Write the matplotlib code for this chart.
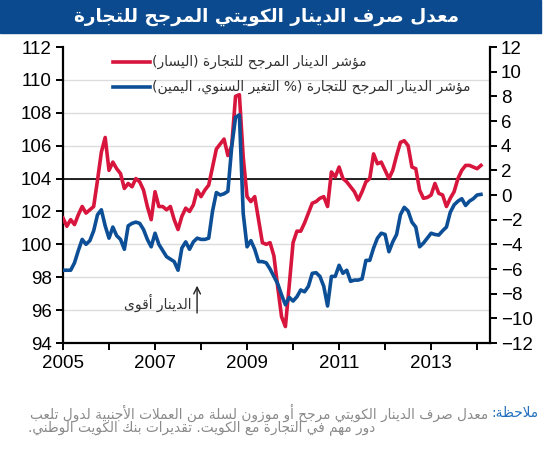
import numpy as np
import matplotlib
matplotlib.use("Agg")
import matplotlib.pyplot as plt
from matplotlib.patches import Rectangle

# ---- data (monthly, Jan 2005 - Feb 2014) ----
START_YEAR = 2005
twi_index = [
    101.6, 101.1, 101.5, 101.2, 101.8, 102.3, 101.9, 102.1, 102.3, 103.9,
    105.6, 106.5, 104.5, 105.0, 104.6, 104.3, 103.4, 103.7, 103.5, 104.0,
    103.8, 103.3, 102.3, 101.5, 103.2, 102.3, 102.3, 102.1, 102.3, 101.5,
    100.9, 101.7, 102.2, 102.0, 102.4, 103.3, 102.9, 103.3, 103.6, 104.7,
    105.8, 106.1, 106.4, 105.4, 106.0, 109.0, 109.1, 105.3, 102.9, 102.6,
    102.9, 101.5, 100.1, 100.0, 100.1, 99.3, 97.4, 95.6, 95.0, 97.5,
    100.1, 100.8, 100.8, 101.3, 101.9, 102.5, 102.6, 102.8, 102.9, 102.3,
    104.4, 104.1, 104.7, 104.0, 103.8, 103.5, 103.2, 102.7, 103.2, 103.8,
    104.0, 105.5, 104.9, 105.0, 104.5, 104.0, 104.5, 105.4, 106.2, 106.3,
    106.0, 104.7, 104.6, 103.3, 102.8, 102.85, 103.0, 103.7, 103.1, 103.0,
    102.3, 102.8, 103.2, 104.0, 104.5, 104.8, 104.8, 104.7, 104.6, 104.8,
]
twi_yoy = [
    -6.1, -6.1, -6.1, -5.5, -4.5, -3.6, -4.0, -3.7, -2.9, -1.6,
    -1.2, -2.5, -3.5, -2.6, -3.3, -3.6, -4.4, -2.5, -2.3, -2.2,
    -2.3, -2.8, -3.6, -4.2, -3.1, -4.0, -4.5, -5.0, -5.2, -5.4,
    -6.1, -4.3, -3.8, -4.4, -3.8, -3.5, -3.6, -3.6, -3.5, -1.3,
    0.2, 0.0, 0.1, 0.3, 3.9, 6.3, 6.5, -1.5, -4.2, -3.7,
    -4.4, -5.4, -5.4, -5.5, -6.0, -6.6, -7.2, -8.1, -8.9, -8.3,
    -8.6, -8.25, -7.7, -7.85, -7.4, -6.35, -6.3, -6.6, -7.4, -9.0,
    -6.6, -6.6, -5.7, -6.35, -6.1, -7.0, -6.9, -6.9, -6.8, -5.3,
    -5.3, -4.3, -3.5, -3.1, -3.2, -4.6, -3.8, -3.2, -1.6, -1.0,
    -1.3, -2.2, -2.6, -4.2, -3.9, -3.5, -3.1, -3.2, -3.25, -2.9,
    -2.6, -1.4, -0.8, -0.5, -0.3, -0.85, -0.5, -0.3, 0.0, 0.05,
]
left_ticks = [94, 96, 98, 100, 102, 104, 106, 108, 110, 112]
right_ticks = [-12, -10, -8, -6, -4, -2, 0, 2, 4, 6, 8, 10, 12]
year_labels = [2005, 2007, 2009, 2011, 2013]
ref_level = 104

TITLE = "معدل صرف الدينار الكويتي المرجح للتجارة"
LABEL_RED = "مؤشر الدينار المرجح للتجارة (اليسار)"
LABEL_BLUE = "مؤشر الدينار المرجح للتجارة (% التغير السنوي، اليمين)"
ARROW_TEXT = "الدينار أقوى"
NOTE_HEAD = "ملاحظة:"
NOTE_LINE1 = "معدل صرف الدينار الكويتي مرجح أو موزون لسلة من العملات الأجنبية لدول تلعب"
NOTE_LINE2 = "دور مهم في التجارة مع الكويت. تقديرات بنك الكويت الوطني."

RED = "#d7153d"
BLUE = "#0d4f96"
BAND = "#0b4a8f"

# ---- minimal arabic shaping (matplotlib draws glyphs one by one, LTR) ----
# isolated, final, initial, medial
_F = {
    "ء": (0xFE80, None, None, None),
    "آ": (0xFE81, 0xFE82, None, None),
    "أ": (0xFE83, 0xFE84, None, None),
    "ؤ": (0xFE85, 0xFE86, None, None),
    "إ": (0xFE87, 0xFE88, None, None),
    "ئ": (0xFE89, 0xFE8A, 0xFE8B, 0xFE8C),
    "ا": (0xFE8D, 0xFE8E, None, None),
    "ب": (0xFE8F, 0xFE90, 0xFE91, 0xFE92),
    "ة": (0xFE93, 0xFE94, None, None),
    "ت": (0xFE95, 0xFE96, 0xFE97, 0xFE98),
    "ث": (0xFE99, 0xFE9A, 0xFE9B, 0xFE9C),
    "ج": (0xFE9D, 0xFE9E, 0xFE9F, 0xFEA0),
    "ح": (0xFEA1, 0xFEA2, 0xFEA3, 0xFEA4),
    "خ": (0xFEA5, 0xFEA6, 0xFEA7, 0xFEA8),
    "د": (0xFEA9, 0xFEAA, None, None),
    "ذ": (0xFEAB, 0xFEAC, None, None),
    "ر": (0xFEAD, 0xFEAE, None, None),
    "ز": (0xFEAF, 0xFEB0, None, None),
    "س": (0xFEB1, 0xFEB2, 0xFEB3, 0xFEB4),
    "ش": (0xFEB5, 0xFEB6, 0xFEB7, 0xFEB8),
    "ص": (0xFEB9, 0xFEBA, 0xFEBB, 0xFEBC),
    "ض": (0xFEBD, 0xFEBE, 0xFEBF, 0xFEC0),
    "ط": (0xFEC1, 0xFEC2, 0xFEC3, 0xFEC4),
    "ظ": (0xFEC5, 0xFEC6, 0xFEC7, 0xFEC8),
    "ع": (0xFEC9, 0xFECA, 0xFECB, 0xFECC),
    "غ": (0xFECD, 0xFECE, 0xFECF, 0xFED0),
    "ف": (0xFED1, 0xFED2, 0xFED3, 0xFED4),
    "ق": (0xFED5, 0xFED6, 0xFED7, 0xFED8),
    "ك": (0xFED9, 0xFEDA, 0xFEDB, 0xFEDC),
    "ل": (0xFEDD, 0xFEDE, 0xFEDF, 0xFEE0),
    "م": (0xFEE1, 0xFEE2, 0xFEE3, 0xFEE4),
    "ن": (0xFEE5, 0xFEE6, 0xFEE7, 0xFEE8),
    "ه": (0xFEE9, 0xFEEA, 0xFEEB, 0xFEEC),
    "و": (0xFEED, 0xFEEE, None, None),
    "ى": (0xFEEF, 0xFEF0, None, None),
    "ي": (0xFEF1, 0xFEF2, 0xFEF3, 0xFEF4),
}
_LAMALEF = {"آ": (0xFEF5, 0xFEF6), "أ": (0xFEF7, 0xFEF8),
            "إ": (0xFEF9, 0xFEFA), "ا": (0xFEFB, 0xFEFC)}
_MIRROR = {"(": ")", ")": "("}


def _dual(c):
    return c in _F and _F[c][2] is not None


def ar(text):
    out = []
    i = 0
    n = len(text)
    while i < n:
        c = text[i]
        prev = text[i - 1] if i > 0 else ""
        nxt = text[i + 1] if i + 1 < n else ""
        if c not in _F:
            out.append(c)
            i += 1
            continue
        join_prev = _dual(prev) and _F[c][1] is not None
        if c == "ل" and nxt in _LAMALEF:
            out.append(chr(_LAMALEF[nxt][1 if join_prev else 0]))
            i += 2
            continue
        join_next = _dual(c) and nxt in _F and _F[nxt][1] is not None
        iso, fin, ini, med = _F[c]
        if join_prev and join_next:
            g = med
        elif join_prev:
            g = fin
        elif join_next:
            g = ini
        else:
            g = iso
        out.append(chr(g))
        i += 1
    return "".join(_MIRROR.get(ch, ch) for ch in reversed(out))


plt.rcParams["font.family"] = ["Liberation Sans", "DejaVu Sans"]
AR_FONT = ["DejaVu Sans"]

x = START_YEAR + np.arange(len(twi_index)) / 12.0

fig = plt.figure(figsize=(5.46, 4.5), dpi=100)
fig.patches.append(Rectangle((0, 1 - 33 / 450), 0.99, 33 / 450,
                             transform=fig.transFigure, color=BAND, zorder=0))
fig.text(0.488, 1 - 17 / 450, ar(TITLE), family=AR_FONT, weight="bold",
         fontsize=13.3, color="white", ha="center", va="center")

ax = fig.add_axes([63 / 546, 1 - 343 / 450, 427 / 546, 296 / 450])
ax2 = ax.twinx()

ax.set_ylim(94, 112)
ax.set_yticks(left_ticks)
ax2.set_ylim(-12, 12)
ax2.set_yticks(right_ticks)
ax.set_xlim(2005, 2014.28)
ax.set_xticks(year_labels)
ax.set_xticks(np.arange(2005, 2015), minor=True)
ax.set_xticklabels([str(y) for y in year_labels])

for t in left_ticks[1:-1]:
    ax.axhline(t, color="#dcdcdc", lw=1, zorder=0)
ax.axhline(ref_level, color="black", lw=1.2, zorder=2)

ax.plot(x, twi_index, color=RED, lw=2.6, zorder=3)
ax2.plot(x, twi_yoy, color=BLUE, lw=2.6, zorder=3)

for a in (ax, ax2):
    a.spines["top"].set_visible(False)
    for s in ("left", "right", "bottom"):
        a.spines[s].set_linewidth(1.6)
ax.spines["right"].set_visible(False)
ax2.spines["left"].set_visible(False)
ax2.spines["bottom"].set_visible(False)
ax.tick_params(axis="y", labelsize=13.5, length=5, width=1.4, pad=3)
ax2.tick_params(axis="y", labelsize=13.5, length=5, width=1.4, pad=3)
ax.tick_params(axis="x", which="both", labelsize=13.5, length=5, width=1.4, pad=4)
ax.tick_params(axis="x", which="minor", labelbottom=False)

# legend drawn by hand, like the original
for yy, col, lab in ((0.949, RED, LABEL_RED), (0.864, BLUE, LABEL_BLUE)):
    ax.plot([0.117, 0.203], [yy, yy], color=col, lw=2.6, transform=ax.transAxes,
            clip_on=False)
    ax.text(0.209, yy, ar(lab), family=AR_FONT, fontsize=10, color="#333333",
            transform=ax.transAxes, ha="left", va="center")

ax.annotate("", xy=(0.314, 0.203), xytext=(0.314, 0.092), xycoords="axes fraction",
            arrowprops=dict(arrowstyle="->", lw=1.0, color="#222222",
                            mutation_scale=12))
ax.text(0.300, 0.135, ar(ARROW_TEXT), family=AR_FONT, fontsize=10, color="#333333",
        transform=ax.transAxes, ha="right", va="center")

# note under the chart (blue head at the right end of the first line)
fig.canvas.draw()
r = fig.canvas.get_renderer()
head = fig.text(538 / 546, 1 - 413 / 450, ar(NOTE_HEAD), family=AR_FONT,
                fontsize=9.8, color="#1f6fbf", ha="right", va="center")
hb = head.get_window_extent(r)
fig.text((hb.x0 - 3) / fig.bbox.width, 1 - 413 / 450, ar(NOTE_LINE1),
         family=AR_FONT, fontsize=9.8, color="#8a8a8a", ha="right", va="center")
fig.text(28 / 546, 1 - 428 / 450, ar(NOTE_LINE2), family=AR_FONT,
         fontsize=9.8, color="#8a8a8a", ha="left", va="center")

fig.savefig("out.png", dpi=100)
